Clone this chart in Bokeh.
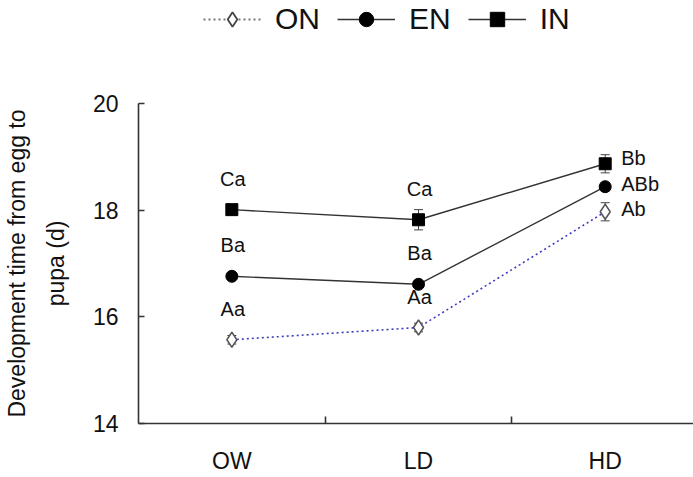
from bokeh.plotting import figure
from bokeh.layouts import column
from bokeh.models import (ColumnDataSource, FixedTicker, Legend, LegendItem, Label,
                          Whisker, TeeHead, Range1d)
from bokeh.embed import file_html
from bokeh.resources import INLINE

# ---- data ----
categories = ["OW", "LD", "HD"]
on_mean = [15.57, 15.80, 17.97]
on_err = [0.08, 0.08, 0.17]
en_mean = [16.76, 16.61, 18.44]
en_err = [0.05, 0.05, 0.08]
in_mean = [18.01, 17.82, 18.87]
in_err = [0.09, 0.19, 0.17]
on_letters = ["Aa", "Aa", "Ab"]
en_letters = ["Ba", "Ba", "ABb"]
in_letters = ["Ca", "Ca", "Bb"]
series_names = ["ON", "EN", "IN"]
y_ticks = [14, 16, 18, 20]

FONT = "Liberation Sans"
LINE = "#333333"
xs = list(range(len(categories)))

# ---------------- main chart ----------------
p = figure(width=693, height=437, output_backend="svg", toolbar_location=None,
           x_range=(-0.5, 2.473), y_range=(14, 20),
           min_border_left=137, min_border_right=0, min_border_top=63,
           min_border_bottom=54)
p.outline_line_color = None
p.xgrid.visible = False
p.ygrid.visible = False

# error bars
for mean, err in [(on_mean, on_err), (en_mean, en_err), (in_mean, in_err)]:
    src = ColumnDataSource(dict(x=xs, lo=[m - e for m, e in zip(mean, err)],
                                hi=[m + e for m, e in zip(mean, err)]))
    w = Whisker(source=src, base="x", lower="lo", upper="hi", dimension="height",
                line_color="#444444", line_width=1,
                upper_head=TeeHead(size=9, line_color="#444444", line_width=1),
                lower_head=TeeHead(size=9, line_color="#444444", line_width=1))
    p.add_layout(w)

# lines
p.line(xs, on_mean, line_color="#3c3cc0", line_width=1.6, line_dash="2 3")
p.line(xs, en_mean, line_color=LINE, line_width=1.4)
p.line(xs, in_mean, line_color=LINE, line_width=1.4)

# markers
p.scatter(xs, on_mean, marker="diamond", size=15, fill_color="white",
          line_color="#555555", line_width=1.5)
p.scatter(xs, en_mean, marker="circle", size=12, fill_color="black", line_color="black")
p.scatter(xs, in_mean, marker="square", size=12, fill_color="black", line_color="black")

# significance letters
for mean, letters, hd_dy in [(on_mean, on_letters, -3), (en_mean, en_letters, -3),
                             (in_mean, in_letters, -6)]:
    for i, (m, t) in enumerate(zip(mean, letters)):
        if i < len(categories) - 1:
            lab = Label(x=i, y=m, text=t, x_offset=1, y_offset=31,
                        text_align="center", text_baseline="middle")
        else:
            lab = Label(x=i, y=m, text=t, x_offset=16, y_offset=-hd_dy,
                        text_align="left", text_baseline="middle")
        lab.text_font = FONT
        lab.text_font_size = "20px"
        lab.text_color = "#111111"
        p.add_layout(lab)

# axes
for ax in (p.xaxis[0], p.yaxis[0]):
    ax.axis_line_color = LINE
    ax.axis_line_width = 1.6
    ax.major_tick_line_color = LINE
    ax.major_tick_line_width = 1.6
    ax.minor_tick_line_color = LINE
    ax.minor_tick_line_width = 1.6
    ax.major_label_text_font = FONT
    ax.major_label_text_font_size = "23px"
    ax.major_label_text_color = "#111111"

p.xaxis.ticker = FixedTicker(ticks=xs, minor_ticks=[0.5, 1.5])
p.xaxis.major_label_overrides = {i: c for i, c in enumerate(categories)}
p.xaxis.major_tick_in = 0
p.xaxis.major_tick_out = 0
p.xaxis.minor_tick_in = 7
p.xaxis.minor_tick_out = 0
p.xaxis.major_label_standoff = 24

p.yaxis.ticker = FixedTicker(ticks=y_ticks, minor_ticks=[])
p.yaxis.major_tick_in = 6
p.yaxis.major_tick_out = 0
p.yaxis.minor_tick_in = 0
p.yaxis.minor_tick_out = 0
p.yaxis.major_label_standoff = 20
p.yaxis.axis_label = "Development time from egg to\npupa (d)"
p.yaxis.axis_label_text_font = FONT
p.yaxis.axis_label_text_font_size = "23px"
p.yaxis.axis_label_text_font_style = "normal"
p.yaxis.axis_label_text_color = "#111111"
p.yaxis.axis_label_text_line_height = 1.5
p.yaxis.axis_label_standoff = 21

# ---------------- legend strip ----------------
lg = figure(width=693, height=40, output_backend="svg", toolbar_location=None,
            x_range=Range1d(0, 1), y_range=Range1d(0, 1),
            min_border_left=137, min_border_right=0, min_border_top=0,
            min_border_bottom=0)
lg.outline_line_color = None
lg.xaxis.visible = False
lg.yaxis.visible = False
lg.xgrid.visible = False
lg.ygrid.visible = False

# legend proxies: one point each, placed outside the strip's visible range
def proxy():
    return ColumnDataSource(dict(x=[5], y=[5]))

r_on_l = lg.line("x", "y", source=proxy(), line_color="#777777",
                 line_width=2, line_dash="2 3")
r_on_m = lg.scatter("x", "y", source=proxy(), marker="diamond", size=17,
                    fill_color="white", line_color="#444444", line_width=1.8)
r_en_l = lg.line("x", "y", source=proxy(), line_color=LINE, line_width=1.6)
r_en_m = lg.scatter("x", "y", source=proxy(), marker="circle", size=13,
                    fill_color="black", line_color="black")
r_in_l = lg.line("x", "y", source=proxy(), line_color=LINE, line_width=1.6)
r_in_m = lg.scatter("x", "y", source=proxy(), marker="square", size=13,
                    fill_color="black", line_color="black")

legend = Legend(items=[LegendItem(label=series_names[0], renderers=[r_on_l, r_on_m]),
                       LegendItem(label=series_names[1], renderers=[r_en_l, r_en_m]),
                       LegendItem(label=series_names[2], renderers=[r_in_l, r_in_m])],
                orientation="horizontal", location=(65, 3),
                glyph_width=58, glyph_height=36, label_height=36,
                label_standoff=14, spacing=17, padding=0, margin=0,
                label_text_font=FONT, label_text_font_size="30px",
                label_text_color="#111111",
                border_line_color=None, background_fill_alpha=0)
lg.add_layout(legend, "center")

layout = column(lg, p, spacing=0)
open("out.html", "w").write(file_html(layout, INLINE))
